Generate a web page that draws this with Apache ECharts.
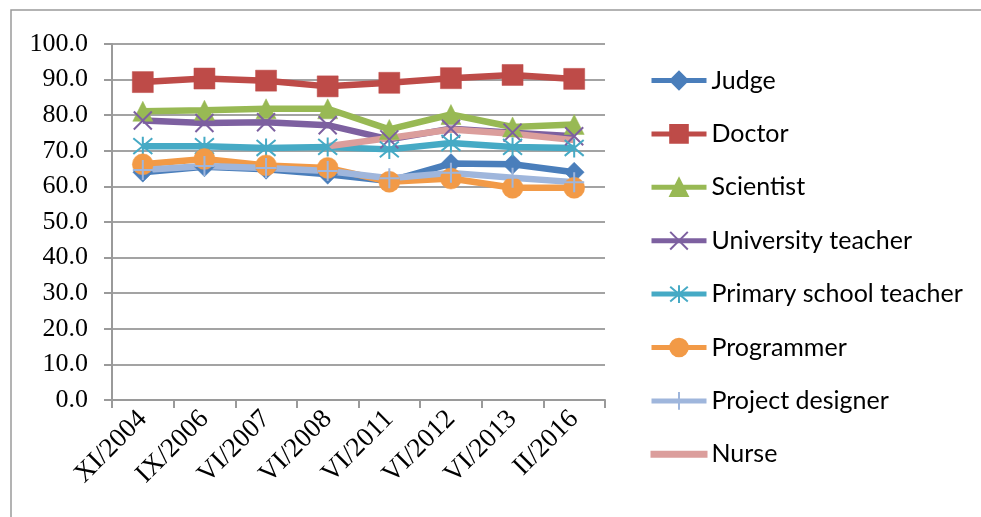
<!DOCTYPE html>
<html>
<head>
<meta charset="utf-8">
<script src="https://cdn.jsdelivr.net/npm/echarts@6/dist/echarts.min.js"></script>
<style>
html,body{margin:0;padding:0;background:#fff;}
#chart{width:981px;height:517px;}
</style>
</head>
<body>
<div id="chart"></div>
<script>
var categories = ['XI/2004','IX/2006','VI/2007','VI/2008','VI/2011','VI/2012','VI/2013','II/2016'];
var judge = [64.0, 65.5, 64.8, 63.4, 61.5, 66.4, 66.2, 64.0];
var doctor = [89.3, 90.3, 89.7, 88.1, 89.1, 90.4, 91.3, 90.2];
var scientist = [81.1, 81.4, 81.8, 81.8, 76.0, 80.2, 76.7, 77.4];
var universityTeacher = [78.5, 77.8, 78.0, 77.2, 73.2, 76.2, 75.1, 74.1];
var primaryTeacher = [71.3, 71.3, 70.8, 71.1, 70.4, 72.2, 71.1, 70.8];
var programmer = [66.2, 67.7, 65.9, 65.2, 61.3, 62.2, 59.6, 59.6];
var projectDesigner = [64.6, 65.7, 65.2, 64.3, 62.3, 63.8, 62.4, 61.2];
var nurse = [null, null, null, 71.3, 73.6, 76.0, 74.8, 73.0];
var yTicks = [0,10,20,30,40,50,60,70,80,90,100];

var seriesDefs = [
  {name:'Judge', data:judge, color:'#4A7EBB', symbol:'diamond', size:20, stroke:false},
  {name:'Doctor', data:doctor, color:'#BE4B48', symbol:'rect', size:21, stroke:false},
  {name:'Scientist', data:scientist, color:'#98B954', symbol:'triangle', size:20, stroke:false},
  {name:'University teacher', data:universityTeacher, color:'#7D60A0', symbol:'path://M0,0L10,10M10,0L0,10', size:18, stroke:true},
  {name:'Primary school teacher', data:primaryTeacher, color:'#46AAC5', symbol:'path://M0,1L10,11M10,1L0,11M5,0L5,12', size:19, stroke:true},
  {name:'Programmer', data:programmer, color:'#F29A47', symbol:'circle', size:21, stroke:false},
  {name:'Project designer', data:projectDesigner, color:'#9FB6DC', symbol:'path://M5,0L5,10M0,5L10,5', size:20, stroke:true},
  {name:'Nurse', data:nurse, color:'#DB9E9C', symbol:'none', size:0, stroke:false}
];

var chart = echarts.init(document.getElementById('chart'));
var option = {
  animation:false,
  backgroundColor:'#ffffff',
  graphic:[{
    type:'rect', silent:true,
    shape:{x:11, y:10, width:1200, height:800},
    style:{fill:'none', stroke:'#9a9a9a', lineWidth:1.5}
  }],
  grid:{left:112, right:376, top:44, bottom:117, containLabel:false},
  legend:{
    orient:'vertical', left:649, top:68, padding:0,
    itemWidth:55, itemHeight:22, itemGap:28.4,
    lineStyle:{width:5},
    textStyle:{fontFamily:'Lato', fontSize:25, color:'#000', lineHeight:24},
    data: seriesDefs.map(function(s){
      if (s.symbol === 'none') {
        return {name:s.name, icon:'path://M0,0L55,0L55,5L0,5Z'};
      }
      return s.name;
    })
  },
  xAxis:{
    type:'category', data:categories, boundaryGap:true,
    axisLine:{lineStyle:{color:'#9a9a9a', width:2}},
    axisTick:{show:true, length:8, lineStyle:{color:'#9a9a9a', width:2}},
    axisLabel:{rotate:45, interval:0, margin:15, fontFamily:'Liberation Serif', fontSize:27, color:'#000'}
  },
  yAxis:{
    type:'value', min:yTicks[0], max:yTicks[yTicks.length-1], interval:10,
    axisLine:{show:true, lineStyle:{color:'#9a9a9a', width:2}},
    axisTick:{show:true, length:8, lineStyle:{color:'#9a9a9a', width:2}},
    splitLine:{lineStyle:{color:'#a3a3a3', width:2}},
    axisLabel:{margin:24, fontFamily:'Liberation Serif', fontSize:26, color:'#000',
      formatter:function(v){return v.toFixed(1);}}
  },
  series: seriesDefs.map(function(s){
    return {
      name:s.name, type:'line', data:s.data,
      symbol:s.symbol, symbolSize:s.size, showSymbol:s.symbol!=='none',
      connectNulls:false,
      lineStyle:{color:s.color, width:6.5},
      itemStyle: s.stroke ? {color:s.color, borderColor:s.color, borderWidth:2}
                          : {color:s.color, borderColor:s.color, borderWidth:0.5},
      emphasis:{disabled:true}
    };
  })
};
chart.setOption(option);
</script>
</body>
</html>
